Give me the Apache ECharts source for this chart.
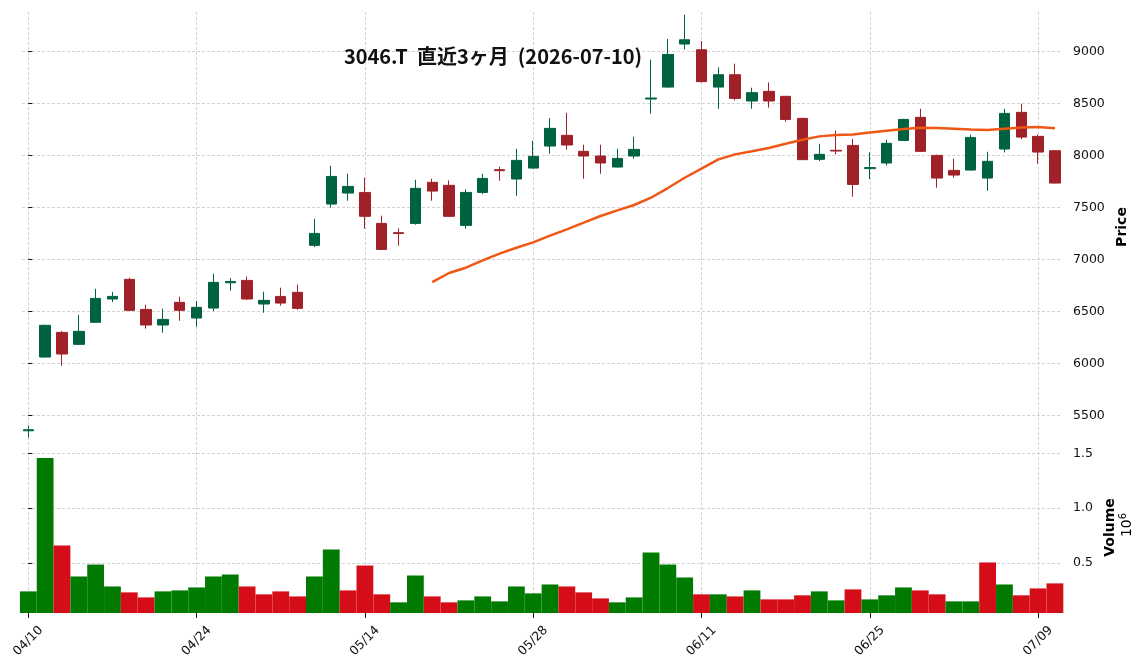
<!DOCTYPE html>
<html>
<head>
<meta charset="utf-8">
<script src="https://cdn.jsdelivr.net/npm/echarts@6/dist/echarts.min.js"></script>
<style>
  html, body { margin: 0; padding: 0; background: #fff; }
  #chart { width: 1148px; height: 670px; }
</style>
</head>
<body>
<div id="chart"></div>
<script>
// trading days, 2026-04-10 .. 2026-07-10
const dates = [
  '04/10', '04/13', '04/14', '04/15', '04/16', '04/17', '04/20', '04/21', '04/22', '04/23',
  '04/24', '04/27', '04/28', '04/30', '05/01', '05/07', '05/08', '05/11', '05/12', '05/13',
  '05/14', '05/15', '05/18', '05/19', '05/20', '05/21', '05/22', '05/25', '05/26', '05/27',
  '05/28', '05/29', '06/01', '06/02', '06/03', '06/04', '06/05', '06/08', '06/09', '06/10',
  '06/11', '06/12', '06/15', '06/16', '06/17', '06/18', '06/19', '06/22', '06/23', '06/24',
  '06/25', '06/26', '06/29', '06/30', '07/01', '07/02', '07/03', '07/06', '07/07', '07/08',
  '07/09', '07/10'
];
const opens = [
  5355, 6064, 6301, 6186, 6398, 6622, 6811, 6522, 6372, 6590,
  6439, 6535, 6778, 6801, 6574, 6647, 6686, 7138, 7535, 7641,
  7647, 7349, 7260, 7349, 7744, 7715, 7330, 7647, 7866, 7776,
  7881, 8093, 8196, 8042, 7997, 7891, 7997, 8545, 8660, 9074,
  9019, 8660, 8779, 8526, 8619, 8571, 8359, 7965, 8052, 8099,
  7876, 7930, 8147, 8369, 8003, 7859, 7862, 7785, 8064, 8417,
  8186, 8048
];
const closes = [
  5365, 6369, 6093, 6311, 6628, 6647, 6513, 6372, 6426, 6513,
  6542, 6782, 6790, 6622, 6609, 6583, 6532, 7253, 7801, 7705,
  7417, 7099, 7252, 7686, 7660, 7417, 7647, 7782, 7856, 7955,
  7994, 8263, 8103, 7997, 7930, 7974, 8061, 8555, 8974, 9115,
  8712, 8779, 8551, 8606, 8526, 8349, 7962, 8013, 8045, 7724,
  7886, 8119, 8349, 8042, 7785, 7814, 8176, 7946, 8407, 8179,
  8035, 7737
];
const lows = [
  5290, 6060, 5980, 6180, 6395, 6593, 6510, 6337, 6298, 6413,
  6356, 6506, 6702, 6616, 6490, 6558, 6519, 7122, 7500, 7567,
  7298, 7095, 7135, 7337, 7567, 7413, 7298, 7631, 7760, 7615,
  7878, 8019, 8058, 7779, 7827, 7888, 7971, 8404, 8655, 9022,
  8708, 8452, 8532, 8452, 8462, 8327, 7958, 7949, 8013, 7606,
  7776, 7904, 8144, 8039, 7692, 7788, 7859, 7663, 8032, 8160,
  7923, 7734
];
const highs = [
  5405, 6375, 6315, 6470, 6720, 6690, 6827, 6567, 6529, 6644,
  6603, 6865, 6824, 6837, 6692, 6731, 6760, 7394, 7904, 7827,
  7788, 7423, 7301, 7769, 7779, 7763, 7676, 7827, 7894, 8067,
  8144, 8362, 8413, 8106, 8106, 8067, 8183, 8923, 9122, 9356,
  9103, 8849, 8885, 8654, 8705, 8575, 8365, 8115, 8240, 8160,
  8032, 8154, 8355, 8452, 8010, 7971, 8202, 8038, 8452, 8500,
  8202, 8055
];
const volumes = [
  239000, 1457000, 657000, 375000, 484000, 284000, 230000, 184000, 239000, 248000,
  275000, 375000, 393000, 284000, 212000, 239000, 193000, 375000, 621000, 248000,
  475000, 212000, 139000, 384000, 193000, 139000, 157000, 193000, 148000, 284000,
  221000, 302000, 284000, 230000, 175000, 139000, 184000, 594000, 484000, 366000,
  212000, 212000, 193000, 248000, 166000, 166000, 203000, 239000, 157000, 257000,
  166000, 203000, 275000, 248000, 212000, 148000, 148000, 503000, 302000, 203000,
  266000, 312000
];
// 25-day moving average as drawn (starts at the 25th session)
const ma25 = [
  null, null, null, null, null, null, null, null, null, null,
  null, null, null, null, null, null, null, null, null, null,
  null, null, null, null, 6785, 6872, 6923, 6994, 7058, 7115,
  7167, 7231, 7292, 7356, 7420, 7474, 7526, 7596, 7689, 7788,
  7875, 7965, 8013, 8042, 8074, 8115, 8154, 8186, 8199, 8205,
  8224, 8240, 8256, 8269, 8266, 8260, 8253, 8247, 8260, 8272,
  8276, 8263
];
const dateTicks = [0, 10, 20, 30, 40, 50, 60];
const priceTicks = [5500, 6000, 6500, 7000, 7500, 8000, 8500, 9000];
const volumeTicks = [500000, 1000000, 1500000];

const titleText = '3046.T  直近3ヶ月  (2026-07-10)';

const upColor = '#006340';
const downColor = '#a02128';
const volUp = '#007a00';
const volDown = '#d50d18';
const maColor = '#ef5714';
const gridColor = '#c8c8c8';
const labelFont = 'DejaVu Sans';

var chart = echarts.init(document.getElementById('chart'));

const candleData = dates.map((d, i) => [i, opens[i], closes[i], lows[i], highs[i]]);
// mplfinance colours volume by close against previous close
const volumeData = volumes.map((v, i) => ({
  value: [i, v],
  itemStyle: { color: (i === 0 || closes[i] >= closes[i - 1]) ? volUp : volDown }
}));
const maData = [];
ma25.forEach((v, i) => { if (v != null) maData.push([i, v]); });

const volMin = 0.3 * Math.min(...volumes);
const volMax = 1.1 * Math.max(...volumes);

const splitLine = { show: true, lineStyle: { color: gridColor, type: [3, 2], width: 0.8 } };

function makeXAxis(gridIndex, withLabels) {
  return {
    type: 'value',
    gridIndex: gridIndex,
    min: -0.375,
    max: 61.42,
    axisLine: { show: false },
    axisTick: {
      show: withLabels,
      customValues: dateTicks,
      length: 5,
      lineStyle: { color: '#111', width: 1 }
    },
    axisLabel: {
      show: withLabels,
      customValues: dateTicks,
      formatter: v => dates[v],
      rotate: 45,
      align: 'center',
      verticalAlign: 'middle',
      margin: 28,
      fontSize: 12.5,
      fontFamily: labelFont,
      color: '#111'
    },
    splitLine: splitLine
  };
}

option = {
  animation: false,
  backgroundColor: '#fff',
  title: {
    text: titleText,
    left: 488,
    top: 41,
    textAlign: 'center',
    textStyle: {
      fontFamily: 'Noto Sans CJK JP',
      fontWeight: 'bold',
      fontSize: 20,
      color: '#111'
    }
  },
  grid: [
    { left: 22, right: 86, top: 12, height: 430 },
    { left: 22, right: 86, top: 442, height: 171 }
  ],
  xAxis: [makeXAxis(0, false), makeXAxis(1, true)],
  yAxis: [
    {
      type: 'value',
      gridIndex: 0,
      position: 'right',
      min: 5247,
      max: 9382,
      axisLine: { show: false },
      axisTick: { show: true, customValues: priceTicks, length: 4, lineStyle: { color: '#111' } },
      axisLabel: {
        customValues: priceTicks,
        formatter: v => String(v),
        fontSize: 12.5, fontFamily: labelFont, color: '#111', margin: 11
      },
      splitLine: splitLine,
      name: 'Price',
      nameLocation: 'middle',
      nameRotate: 90,
      nameGap: 48,
      nameTextStyle: { fontFamily: labelFont, fontWeight: 'bold', fontSize: 14, color: '#000' }
    },
    {
      type: 'value',
      gridIndex: 1,
      position: 'right',
      min: volMin,
      max: volMax,
      axisLine: { show: false },
      axisTick: { show: true, customValues: volumeTicks, length: 4, lineStyle: { color: '#111' } },
      axisLabel: {
        customValues: volumeTicks,
        formatter: v => (v / 1e6).toFixed(1),
        fontSize: 12.5, fontFamily: labelFont, color: '#111', margin: 11
      },
      splitLine: splitLine,
      name: 'Volume',
      nameLocation: 'middle',
      nameRotate: 90,
      nameGap: 35,
      nameTextStyle: { fontFamily: labelFont, fontWeight: 'bold', fontSize: 14, color: '#000' }
    }
  ],
  graphic: [
    {
      type: 'text',
      x: 1127,
      y: 525,
      rotation: Math.PI / 2,
      style: {
        text: '10{s|6}',
        rich: { s: { fontFamily: labelFont, fontSize: 10, fill: '#000', padding: [0, 0, 8, 0] } },
        fontFamily: labelFont,
        fontSize: 14,
        fill: '#000',
        textAlign: 'center',
        textVerticalAlign: 'middle'
      }
    }
  ],
  series: [
    {
      name: 'candle',
      type: 'candlestick',
      xAxisIndex: 0,
      yAxisIndex: 0,
      data: candleData,
      encode: { x: 0, y: [1, 2, 3, 4] },
      barWidth: '65%',
      itemStyle: {
        color: upColor,
        color0: downColor,
        borderColor: upColor,
        borderColor0: downColor,
        borderWidth: 1
      }
    },
    {
      name: 'MA25',
      type: 'line',
      xAxisIndex: 0,
      yAxisIndex: 0,
      data: maData,
      symbol: 'none',
      lineStyle: { color: maColor, width: 2.5 },
      z: 3
    },
    {
      name: 'Volume',
      type: 'bar',
      xAxisIndex: 1,
      yAxisIndex: 1,
      data: volumeData,
      barWidth: 16.8
    }
  ]
};

chart.setOption(option);
</script>
</body>
</html>
